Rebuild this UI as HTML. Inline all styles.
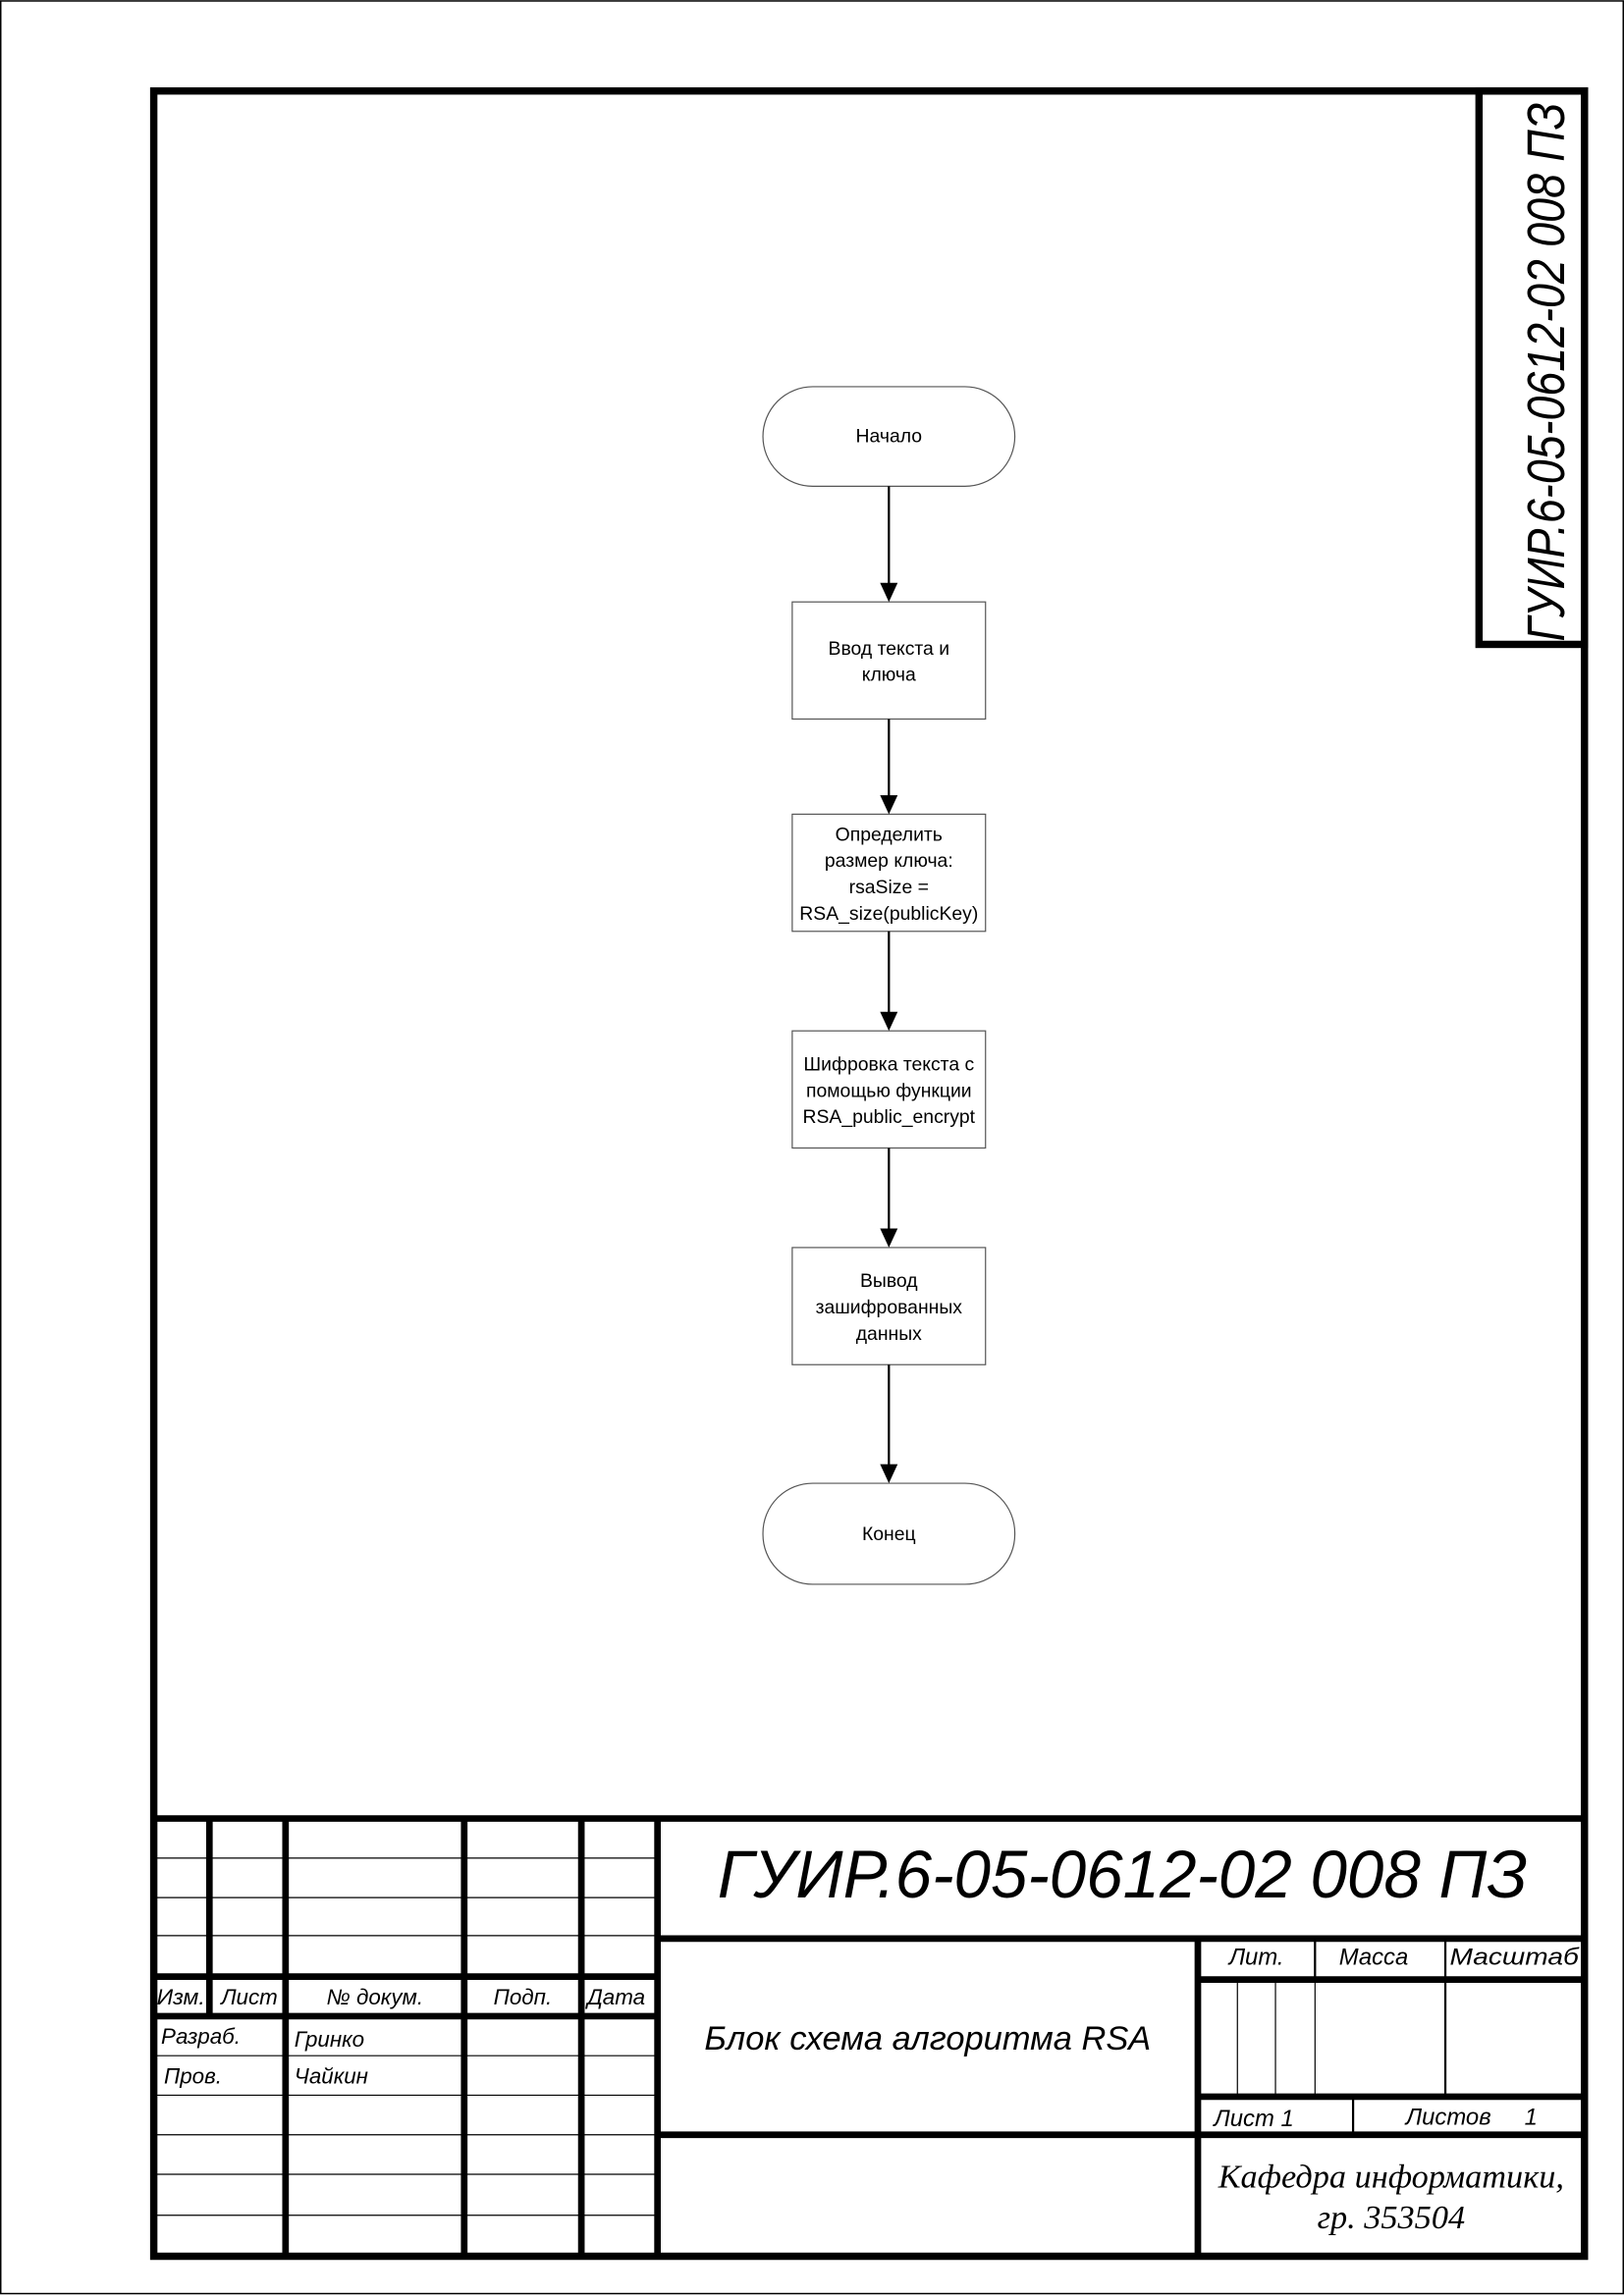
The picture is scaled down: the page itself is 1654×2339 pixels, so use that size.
<!DOCTYPE html>
<html><head><meta charset="utf-8"><style>
html,body{margin:0;padding:0;background:#fff}
svg{display:block}
text{font-family:"Liberation Sans","DejaVu Sans",sans-serif}
</style></head><body>
<svg width="1654" height="2339" viewBox="0 0 1109 1568" xmlns="http://www.w3.org/2000/svg">
<rect x="0" y="0" width="1109" height="1568" fill="#fff"/>
<rect x="0.5" y="0.5" width="1108" height="1566" fill="none" stroke="#000" stroke-width="1"/>
<rect x="105" y="62" width="977" height="1479" fill="none" stroke="#000" stroke-width="5"/>
<rect x="1010" y="62" width="72" height="378" fill="none" stroke="#000" stroke-width="5"/>
<text transform="translate(1068,438) rotate(-90)" font-size="36" font-style="italic" textLength="368" lengthAdjust="spacingAndGlyphs">ГУИР.6-05-0612-02 008 ПЗ</text>

<g stroke="#555" stroke-width="0.8" fill="#fff">
<rect x="521" y="264" width="172" height="68" rx="34" ry="34"/>
<rect x="541" y="411" width="132" height="80"/>
<rect x="541" y="556" width="132" height="80"/>
<rect x="541" y="704" width="132" height="80"/>
<rect x="541" y="852" width="132" height="80"/>
<rect x="521" y="1013" width="172" height="69" rx="34" ry="34"/>
</g>
<g stroke="#000" stroke-width="1.5">
<line x1="607" y1="332" x2="607" y2="400"/>
<line x1="607" y1="491" x2="607" y2="545"/>
<line x1="607" y1="636" x2="607" y2="693"/>
<line x1="607" y1="784" x2="607" y2="841"/>
<line x1="607" y1="932" x2="607" y2="1002"/>
</g>
<g fill="#000">
<polygon points="601,398 613,398 607,411"/>
<polygon points="601,543 613,543 607,556"/>
<polygon points="601,691 613,691 607,704"/>
<polygon points="601,839 613,839 607,852"/>
<polygon points="601,1000 613,1000 607,1013"/>
</g>
<g font-size="13" text-anchor="middle" fill="#000">
<text x="607" y="302">Начало</text>
<text x="607" y="447">Ввод текста и</text>
<text x="607" y="465">ключа</text>
<text x="607" y="574">Определить</text>
<text x="607" y="592">размер ключа:</text>
<text x="607" y="610">rsaSize =</text>
<text x="607" y="628">RSA_size(publicKey)</text>
<text x="607" y="731">Шифровка текста с</text>
<text x="607" y="749">помощью функции</text>
<text x="607" y="767">RSA_public_encrypt</text>
<text x="607" y="879">Вывод</text>
<text x="607" y="897">зашифрованных</text>
<text x="607" y="915">данных</text>
<text x="607" y="1052">Конец</text>
</g>

<g stroke="#000" stroke-width="0.8">
<line x1="105" y1="1269" x2="449" y2="1269"/>
<line x1="105" y1="1296" x2="449" y2="1296"/>
<line x1="105" y1="1322" x2="449" y2="1322"/>
<line x1="105" y1="1404" x2="449" y2="1404"/>
<line x1="105" y1="1431" x2="449" y2="1431"/>
<line x1="105" y1="1458" x2="449" y2="1458"/>
<line x1="105" y1="1485" x2="449" y2="1485"/>
<line x1="105" y1="1513" x2="449" y2="1513"/>
<line x1="845" y1="1352" x2="845" y2="1431"/>
<line x1="871" y1="1352" x2="871" y2="1431"/>
<line x1="898" y1="1352" x2="898" y2="1431"/>
</g>
<g stroke="#000" stroke-width="4.5">
<line x1="105" y1="1242" x2="1082" y2="1242"/>
<line x1="105" y1="1350" x2="449" y2="1350"/>
<line x1="105" y1="1377" x2="449" y2="1377"/>
<line x1="143" y1="1242" x2="143" y2="1377"/>
<line x1="195" y1="1242" x2="195" y2="1541"/>
<line x1="317" y1="1242" x2="317" y2="1541"/>
<line x1="397" y1="1242" x2="397" y2="1541"/>
<line x1="449" y1="1242" x2="449" y2="1541"/>
<line x1="449" y1="1324" x2="1082" y2="1324"/>
<line x1="449" y1="1458" x2="1082" y2="1458"/>
<line x1="818" y1="1324" x2="818" y2="1541"/>
<line x1="818" y1="1352" x2="1082" y2="1352"/>
<line x1="818" y1="1432" x2="1082" y2="1432"/>
</g>
<g stroke="#000" stroke-width="1.5">
<line x1="898" y1="1324" x2="898" y2="1352"/>
<line x1="987" y1="1324" x2="987" y2="1431"/>
<line x1="924" y1="1432" x2="924" y2="1458"/>
</g>
<g font-style="italic" fill="#000" font-size="15">
<text x="107" y="1369" textLength="33" lengthAdjust="spacingAndGlyphs">Изм.</text>
<text x="151" y="1369">Лист</text>
<text x="256" y="1369" text-anchor="middle">№ докум.</text>
<text x="357" y="1369" text-anchor="middle">Подп.</text>
<text x="401" y="1369">Дата</text>
<text x="110" y="1396">Разраб.</text>
<text x="112" y="1423">Пров.</text>
<text x="201" y="1398">Гринко</text>
<text x="201" y="1423">Чайкин</text>
<text x="858" y="1342" text-anchor="middle" font-size="16">Лит.</text>
<text x="938" y="1342" text-anchor="middle" font-size="16">Масса</text>
<text x="1034" y="1342" text-anchor="middle" font-size="16" textLength="88" lengthAdjust="spacingAndGlyphs">Масштаб</text>
<text x="829" y="1452" font-size="16">Лист 1</text>
<text x="960" y="1451" font-size="16">Листов</text>
<text x="1041" y="1451" font-size="16">1</text>
</g>
<text x="490" y="1296" font-size="46" font-style="italic" textLength="553" lengthAdjust="spacingAndGlyphs">ГУИР.6-05-0612-02 008 ПЗ</text>
<text x="481" y="1400" font-size="23" font-style="italic" textLength="305" lengthAdjust="spacingAndGlyphs">Блок схема алгоритма RSA</text>
<text x="950" y="1494" text-anchor="middle" font-size="23" font-style="italic" style="font-family:'Liberation Serif',serif">Кафедра информатики,</text>
<text x="950" y="1522" text-anchor="middle" font-size="23" font-style="italic" style="font-family:'Liberation Serif',serif">гр. 353504</text>
</svg>
</body></html>
